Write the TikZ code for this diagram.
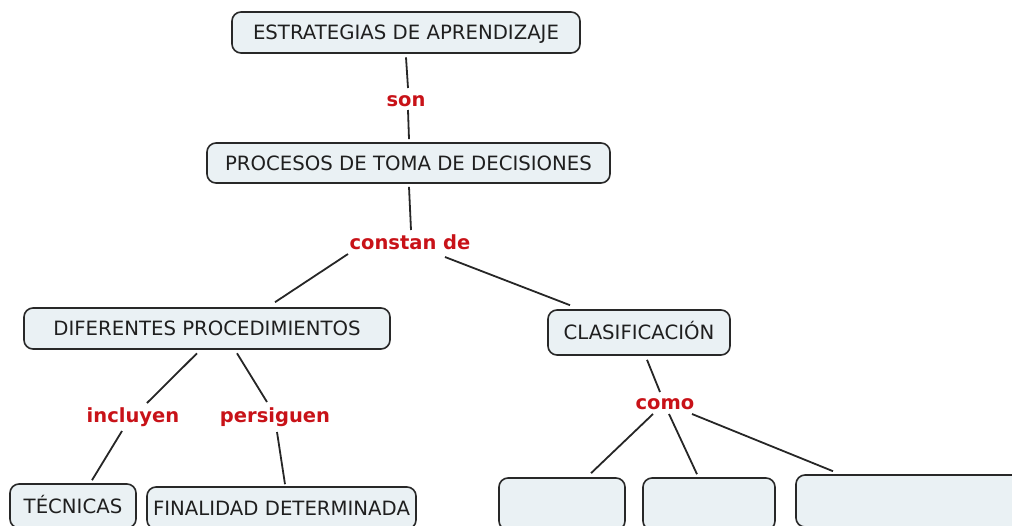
\documentclass[tikz,border=0pt]{standalone}
\usepackage{fontspec}
\setmainfont{DejaVu Sans}
\definecolor{boxfill}{RGB}{234,241,244}
\definecolor{boxline}{RGB}{40,40,40}
\definecolor{lblred}{RGB}{200,18,24}
\begin{document}
\begin{tikzpicture}[x=1pt,y=-1pt,
  concept/.style={draw=boxline,fill=boxfill,line width=1.6pt,rounded corners=9pt,
    inner sep=0pt,text height=14.5pt,text depth=0pt,font=\fontsize{19.7}{23}\selectfont,text=black!88},
  linklbl/.style={inner sep=0pt,anchor=base,text=lblred,font=\fontsize{19.5}{22}\selectfont\bfseries},
  conn/.style={line width=1.8pt,draw=black!85}]
\useasboundingbox (0,0) rectangle (1012,525);
\clip (0,0) rectangle (1012,525);
\node[concept,minimum width=348,minimum height=41] (e) at (406,32.5) {ESTRATEGIAS DE APRENDIZAJE};
\node[concept,minimum width=403,minimum height=40] (p) at (408.5,163) {PROCESOS DE TOMA DE DECISIONES};
\node[concept,minimum width=366,minimum height=41] (d) at (207,328.5) {DIFERENTES PROCEDIMIENTOS};
\node[concept,minimum width=182,minimum height=45] (c) at (639,332.5) {CLASIFICACIÓN};
\node[concept,minimum width=126,minimum height=44] (t) at (73,506) {TÉCNICAS};
\node[concept,minimum width=269,minimum height=42] (f) at (281.5,508) {FINALIDAD DETERMINADA};
\node[concept,minimum width=126,minimum height=52] (e1) at (562,504) {};
\node[concept,minimum width=132,minimum height=52] (e2) at (709,504) {};
\node[concept,minimum width=244,minimum height=52] (e3) at (918,501) {};

\node[linklbl] (son) at (406,106) {son};
\node[linklbl] (con) at (410,249) {constan de};
\node[linklbl] (inc) at (133,422) {incluyen};
\node[linklbl] (per) at (275,422) {persiguen};
\node[linklbl] (como) at (665,409) {como};

\draw[conn] ([shift={(0,3.5)}]e.south) -- ([shift={(2,-18)}]son.base);
\draw[conn] ([shift={(2,4)}]son.base) -- ([shift={(0.5,-3)}]p.north);
\draw[conn] ([shift={(0.5,3)}]p.south) -- ([shift={(1,-19)}]con.base);
\draw[conn] ([shift={(-62,5)}]con.base) -- ([shift={(68,-5)}]d.north);
\draw[conn] ([shift={(35,8)}]con.base) -- ([shift={(-69,-4)}]c.north);
\draw[conn] ([shift={(-10,3.5)}]d.south) -- ([shift={(14,-19)}]inc.base);
\draw[conn] ([shift={(-11,9)}]inc.base) -- ([shift={(19,-3)}]t.north);
\draw[conn] ([shift={(30,3.5)}]d.south) -- ([shift={(-8,-20)}]per.base);
\draw[conn] ([shift={(2,10)}]per.base) -- ([shift={(3.5,-2)}]f.north);
\draw[conn] ([shift={(8,4)}]c.south) -- ([shift={(-5,-17)}]como.base);
\draw[conn] ([shift={(-12,5)}]como.base) -- ([shift={(29,-4)}]e1.north);
\draw[conn] ([shift={(4,5)}]como.base) -- ([shift={(-12,-3)}]e2.north);
\draw[conn] ([shift={(27,5)}]como.base) -- ([shift={(-85,-3)}]e3.north);
\end{tikzpicture}
\end{document}
